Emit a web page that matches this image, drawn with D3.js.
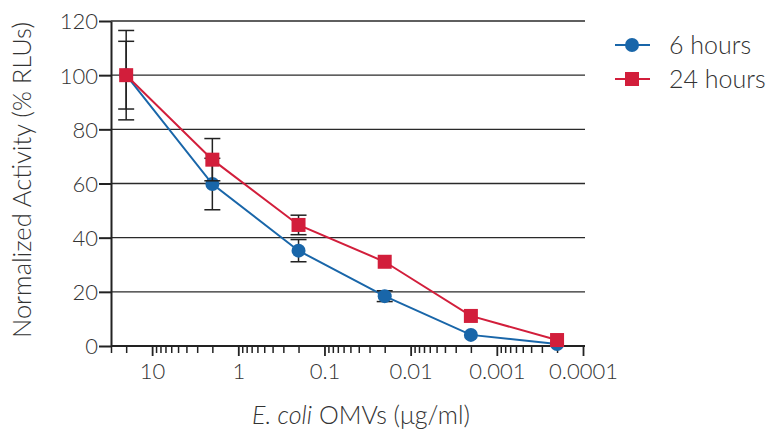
<!DOCTYPE html>
<html>
<head>
<meta charset="utf-8">
<script src="https://cdn.jsdelivr.net/npm/d3@7"></script>
<style>
  body { margin: 0; background: #fff; }
  svg text { font-family: Lato, "Open Sans", sans-serif; font-weight: 300; fill: #333; }
</style>
</head>
<body>
<svg id="chart" width="769" height="434"></svg>
<script>
// ---- data ----
const concentrations = [20, 2, 0.2, 0.02, 0.002, 0.0002];
const series6h = [100, 59.8, 35.2, 18.4, 4.1, 0.7];
const err6h = [12.5, 9.5, 4.1, 2.0, 0, 0];
const series24h = [100, 68.8, 44.7, 31.1, 11.1, 2.2];
const err24h = [16.5, 7.8, 3.6, 0, 0, 0];
const seriesNames = ["6 hours", "24 hours"];
const xMajorTicks = [10, 1, 0.1, 0.01, 0.001, 0.0001];
const xTickLabels = ["10", "1", "0.1", "0.01", "0.001", "0.0001"];
const yTicks = [0, 20, 40, 60, 80, 100, 120];

const blue = "#1966a9", red = "#d21e3b";
const svg = d3.select("#chart");

const x = d3.scaleLog().domain([30, 0.0001]).range([111, 583]);
const y = d3.scaleLinear().domain([0, 120]).range([346, 21]);

// minor ticks
const minor = [30, 20];
for (let e = 0; e >= -4; e--) for (let k = 9; k >= 2; k--) {
  const v = k * Math.pow(10, e);
  if (v > 0.0001) minor.push(v);
}

// gridlines
svg.append("g").selectAll("line").data(yTicks.filter(d => d > 0)).join("line")
  .attr("x1", x(30)).attr("x2", 585)
  .attr("y1", d => y(d)).attr("y2", d => y(d))
  .attr("stroke", "#2a2a2a").attr("stroke-width", 1.3);

// x axis minor
const gxm = svg.append("g").attr("transform", `translate(0,${y(0)})`)
  .call(d3.axisBottom(x).tickValues(minor).tickSize(7).tickFormat(""));
gxm.select(".domain").remove();
gxm.selectAll(".tick line").attr("stroke", "#222").attr("stroke-width", 1.5);

// x axis major
const gx = svg.append("g").attr("transform", `translate(0,${y(0)})`)
  .call(d3.axisBottom(x).tickValues(xMajorTicks).tickSize(10).tickSizeOuter(0)
    .tickFormat((d, i) => xTickLabels[i]));
gx.select(".domain").attr("stroke", "#222").attr("stroke-width", 2)
  .attr("d", `M${x(30)},0H585`);
gx.selectAll(".tick line").attr("stroke", "#222").attr("stroke-width", 1.8);
gx.selectAll(".tick text").attr("font-size", 22).attr("y", 17).attr("dy", "0.71em")
  .style("fill", "#333");

// y axis
const gy = svg.append("g").attr("transform", `translate(${x(30)},0)`)
  .call(d3.axisLeft(y).tickValues(yTicks).tickSize(12).tickSizeOuter(0));
gy.select(".domain").attr("stroke", "#222").attr("stroke-width", 2);
gy.selectAll(".tick line").attr("stroke", "#222").attr("stroke-width", 2);
gy.selectAll(".tick text").attr("font-size", 22).attr("x", -13).attr("dy", "0.36em")
  .style("fill", "#333");

// axis titles
svg.append("text").attr("transform", "translate(31,180) rotate(-90)")
  .attr("text-anchor", "middle").attr("font-size", 25.5)
  .text("Normalized Activity (% RLUs)");
const xt = svg.append("text").attr("x", 361).attr("y", 424)
  .attr("text-anchor", "middle").attr("font-size", 25);
xt.append("tspan").attr("font-style", "italic").text("E. coli");
xt.append("tspan").text(" OMVs (μg/ml)");

function drawSeries(vals, errs, color, shape) {
  const pts = concentrations.map((c, i) => ({ c, v: vals[i], e: errs[i] }));
  const g = svg.append("g");
  g.append("path").datum(pts)
    .attr("d", d3.line().x(d => x(d.c)).y(d => y(d.v)))
    .attr("fill", "none").attr("stroke", color).attr("stroke-width", 2);
  const eb = g.append("g").selectAll("g").data(pts.filter(d => d.e > 0)).join("g")
    .attr("stroke", "#222").attr("stroke-width", 1.5);
  eb.append("line").attr("x1", d => x(d.c)).attr("x2", d => x(d.c))
    .attr("y1", d => y(d.v - d.e)).attr("y2", d => y(d.v + d.e));
  eb.append("line").attr("x1", d => x(d.c) - 8).attr("x2", d => x(d.c) + 8)
    .attr("y1", d => y(d.v - d.e)).attr("y2", d => y(d.v - d.e));
  eb.append("line").attr("x1", d => x(d.c) - 8).attr("x2", d => x(d.c) + 8)
    .attr("y1", d => y(d.v + d.e)).attr("y2", d => y(d.v + d.e));
  if (shape === "circle") {
    g.append("g").selectAll("circle").data(pts).join("circle")
      .attr("cx", d => x(d.c)).attr("cy", d => y(d.v)).attr("r", 7).attr("fill", color);
  } else {
    g.append("g").selectAll("rect").data(pts).join("rect")
      .attr("x", d => x(d.c) - 7).attr("y", d => y(d.v) - 7)
      .attr("width", 14).attr("height", 14).attr("fill", color);
  }
}
drawSeries(series6h, err6h, blue, "circle");
drawSeries(series24h, err24h, red, "square");

// legend
const legend = [
  { name: seriesNames[0], color: blue, shape: "circle", y: 45 },
  { name: seriesNames[1], color: red, shape: "square", y: 79 }
];
legend.forEach(l => {
  svg.append("line").attr("x1", 615).attr("x2", 650).attr("y1", l.y).attr("y2", l.y)
    .attr("stroke", l.color).attr("stroke-width", 2);
  if (l.shape === "circle") svg.append("circle").attr("cx", 632).attr("cy", l.y).attr("r", 7).attr("fill", l.color);
  else svg.append("rect").attr("x", 625).attr("y", l.y - 7).attr("width", 14).attr("height", 14).attr("fill", l.color);
  svg.append("text").attr("x", 669).attr("y", l.y + 8.5).attr("font-size", 25).text(l.name);
});
</script>
</body>
</html>
